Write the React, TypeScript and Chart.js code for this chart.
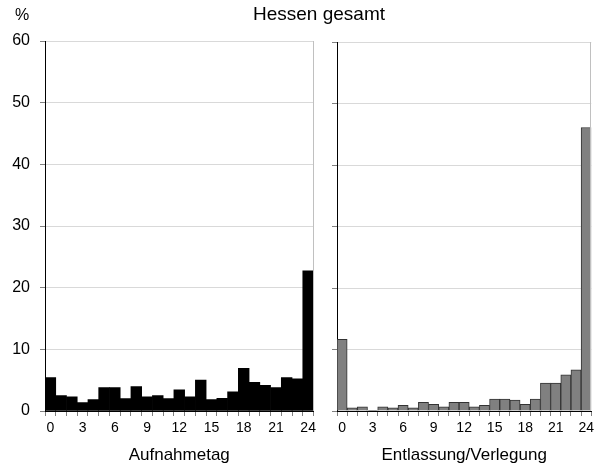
import React, { useEffect, useRef } from "react";
import { Chart, registerables } from "chart.js";

Chart.register(...registerables);

const hours = ["0","1","2","3","4","5","6","7","8","9","10","11","12","13","14","15","16","17","18","19","20","21","22","23","24"];
const admission = [5.4, 2.5, 2.3, 1.35, 1.85, 3.8, 3.8, 2.0, 3.95, 2.3, 2.5, 2.0, 3.45, 2.3, 5.0, 1.85, 2.05, 3.1, 6.9, 4.65, 4.15, 3.8, 5.4, 5.2, 22.75];
const discharge = [11.65, 0.5, 0.66, 0.1, 0.66, 0.5, 0.93, 0.5, 1.43, 1.1, 0.66, 1.43, 1.43, 0.66, 0.93, 1.92, 1.92, 1.76, 1.1, 1.92, 4.56, 4.56, 5.88, 6.7, 46.1];
const yMin = 0;
const yMax = 60;
const yStep = 10;
const titleText = "Hessen gesamt";
const unitText = "%";
const leftAxisTitle = "Aufnahmetag";
const rightAxisTitle = "Entlassung/Verlegung";

const FONT = "'Liberation Sans', Arial, sans-serif";

const framePlugin = {
  id: "frameRight",
  afterDraw(chart: any) {
    const { ctx, chartArea: a } = chart;
    ctx.save();
    ctx.strokeStyle = "#c0c0c0";
    ctx.lineWidth = 1;
    ctx.beginPath();
    ctx.moveTo(Math.round(a.right) - 0.5, a.top);
    ctx.lineTo(Math.round(a.right) - 0.5, a.bottom);
    ctx.stroke();
    ctx.restore();
  },
};

function makeChart(
  canvas: HTMLCanvasElement,
  values: number[],
  fill: string,
  border: string,
  borderWidth: number,
  axisTitle: string,
  showYLabels: boolean,
  yWidth: number,
  rightPad: number,
  topPad: number
) {
  return new Chart(canvas, {
    type: "bar",
    data: {
      labels: hours,
      datasets: [
        {
          data: values,
          backgroundColor: fill,
          borderColor: border,
          borderWidth: borderWidth,
          barPercentage: 1,
          categoryPercentage: 1,
        },
      ],
    },
    options: {
      animation: false,
      responsive: true,
      maintainAspectRatio: false,
      layout: { padding: { top: topPad, right: rightPad, left: 0, bottom: 0 } },
      plugins: { legend: { display: false }, tooltip: { enabled: false } },
      scales: {
        x: {
          type: "category",
          offset: true,
          grid: {
            offset: true,
            drawOnChartArea: false,
            drawTicks: true,
            tickLength: 5,
            color: "#808080",
          },
          border: { display: true, color: "#000", width: 1 },
          ticks: {
            autoSkip: false,
            maxRotation: 0,
            minRotation: 0,
            padding: 4,
            color: "#000",
            font: { family: FONT, size: 14 },
            callback: (_v: any, i: number) => (i % 3 === 0 ? hours[i] : ""),
          },
          title: {
            display: true,
            text: axisTitle,
            color: "#000",
            font: { family: FONT, size: 17 },
            padding: { top: 2, bottom: 0 },
          },
          afterFit: (s: any) => {
            s.height = 55;
          },
        },
        y: {
          min: yMin,
          max: yMax,
          ticks: {
            stepSize: yStep,
            padding: 10,
            color: "#000",
            font: { family: FONT, size: 16 },
            callback: (v: any) => (showYLabels ? String(v) : ""),
          },
          grid: {
            color: "#d9d9d9",
            tickColor: "#808080",
            tickLength: 5,
            drawTicks: true,
          },
          border: { display: true, color: "#000", width: 1 },
          afterFit: (s: any) => {
            s.width = yWidth;
          },
        },
      },
    },
    plugins: [framePlugin],
  } as any);
}

export default function App() {
  const leftRef = useRef<HTMLCanvasElement>(null);
  const rightRef = useRef<HTMLCanvasElement>(null);

  useEffect(() => {
    const c1 = makeChart(leftRef.current!, admission, "#000000", "#000000", 0, leftAxisTitle, true, 45, 3, 41);
    const c2 = makeChart(rightRef.current!, discharge, "#808080", "#333333", 1, rightAxisTitle, false, 17, 1, 42);
    return () => {
      c1.destroy();
      c2.destroy();
    };
  }, []);

  return (
    <div style={{ position: "absolute", left: 0, top: 0, width: 598, height: 466, background: "#fff", fontFamily: FONT }}>
      <div style={{ position: "absolute", left: 0, top: 0, width: 320, height: 466 }}>
        <canvas ref={leftRef} />
      </div>
      <div style={{ position: "absolute", left: 320, top: 0, width: 278, height: 466 }}>
        <canvas ref={rightRef} />
      </div>
      <div style={{ position: "absolute", left: 219, top: 3, width: 200, textAlign: "center", fontSize: 19, lineHeight: "22px", color: "#000" }}>
        {titleText}
      </div>
      <div style={{ position: "absolute", left: 12, top: 5, width: 20, textAlign: "center", fontSize: 16, lineHeight: "20px", color: "#000" }}>
        {unitText}
      </div>
    </div>
  );
}
